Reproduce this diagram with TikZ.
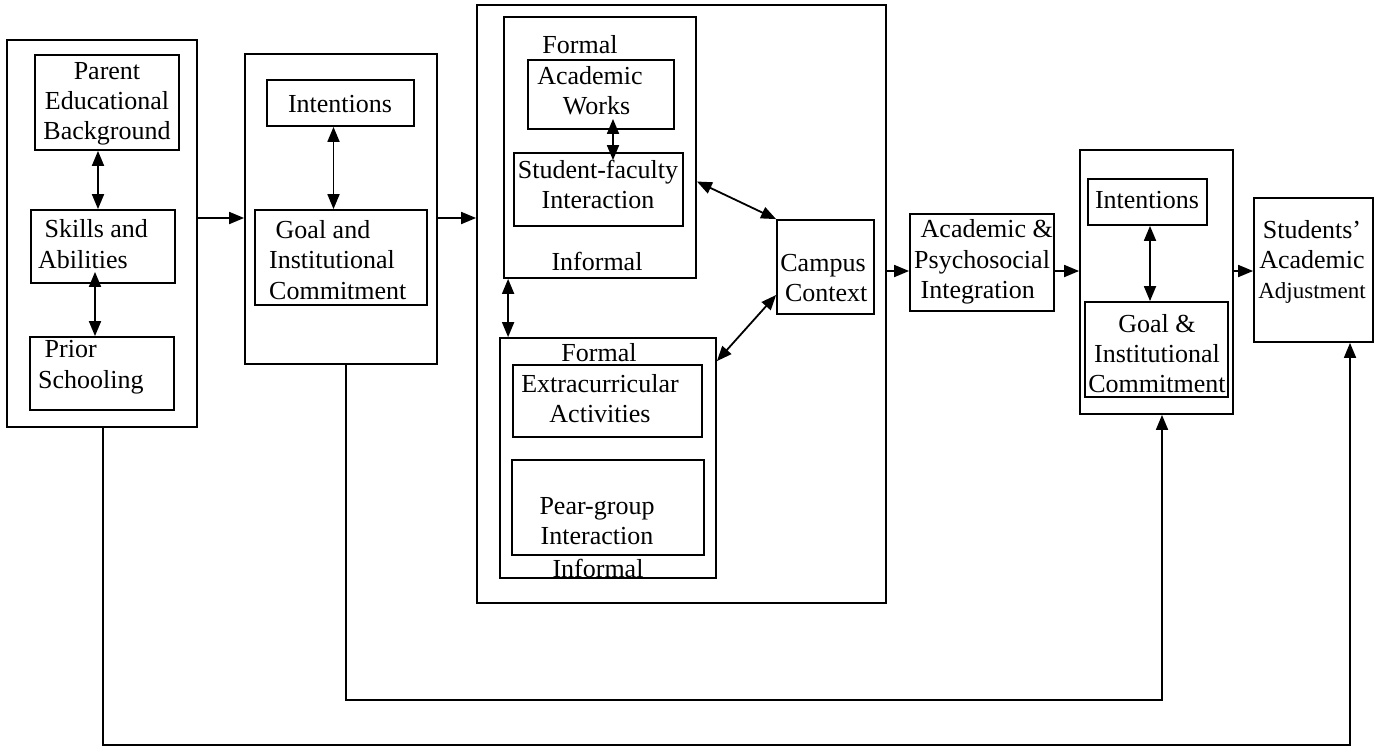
\documentclass[tikz,border=0pt]{standalone}
\usepackage{fontspec}
\setmainfont{Liberation Serif}
\usetikzlibrary{arrows.meta,fit}
\begin{document}
\begin{tikzpicture}[x=1pt,y=-1pt,
  box/.style={draw,line width=1.8pt,inner sep=0pt},
  txt/.style={font=\fontsize{26}{30}\selectfont,align=center,inner sep=0pt},
  txtl/.style={font=\fontsize{26}{30.5}\selectfont,align=left,inner sep=0pt,anchor=west},
  conn/.style={line width=1.8pt},
  >={Triangle[length=15pt,width=12pt]}]
\useasboundingbox (0,0) rectangle (1386,748);
\fill[white] (0,0) rectangle (1386,748);
% ---------- box 1
\node[box,fit={(7,40) (197,427)}] (b1) {};
\node[box,fit={(35,55) (179,150)}] (pe) {};
\node[box,fit={(31,210) (175,283)}] (sa) {};
\node[box,fit={(30,337) (174,410)}] (ps) {};
\node[txt] (tpe) at (107,104) {Parent\\Educational\\Background};
\node[txtl] (tsa) at (38,244) {\ Skills and\\Abilities};
\node[txtl] (tps) at (38,367) {\ Prior\\Schooling};
% ---------- box 2
\node[box,fit={(245,54) (437,364)}] (b2) {};
\node[box,fit={(267,80) (414,126)}] (in2) {};
\node[box,fit={(255,210) (427,305)}] (g2) {};
\node[txt] (tin2) at (340,104) {Intentions};
\node[txtl] (tg2) at (269,260) {\ Goal and\\Institutional\\Commitment};
% ---------- box 3
\node[box,fit={(477,5) (886,603)}] (b3) {};
\node[box,fit={(504,17) (696,278)}] (ub) {};
\node[box,fit={(528,60) (674,129)}] (aw) {};
\node[box,fit={(514,153) (683,226)}] (sf) {};
\node[box,fit={(500,338) (716,578)}] (lb) {};
\node[box,fit={(513,365) (702,437)}] (ex) {};
\node[box,fit={(512,460) (704,555)}] (pg) {};
\node[box,fit={(777,220) (874,314)}] (cc) {};
\node[txt] (tf1) at (580,45) {Formal};
\node[txt] (taw) at (590,91) {Academic\\\ \ Works};
\node[txt] (tsf) at (598,184) {Student-faculty\\Interaction};
\node[txt] (ti1) at (597,261) {Informal};
\node[txt] (tf2) at (599,353) {Formal};
\node[txt] (tex) at (600,399) {Extracurricular\\Activities};
\node[txt] (tpg) at (597,521) {Pear-group\\Interaction};
\node[txt] (ti2) at (598,568) {Informal};
\node[txt] (tcc) at (823,278) {Campus\\\ Context};
% ---------- right part
\node[box,fit={(910,214) (1054,311)}] (api) {};
\node[txtl] (tapi) at (914,262) {\ Academic \&\\Psychosocial\\\ Integration};
\node[box,fit={(1080,150) (1233,414)}] (b4) {};
\node[box,fit={(1088,179) (1207,225)}] (in4) {};
\node[box,fit={(1085,302) (1228,397)}] (g4) {};
\node[txt] (tin4) at (1147,200) {Intentions};
\node[txt] (tg4) at (1157,354) {Goal \&\\Institutional\\Commitment};
\node[box,fit={(1254,198) (1373,342)}] (saa) {};
\node[txt] (tsaa) at (1312,262) {Students'\\Academic\\{\fontsize{23}{30}\selectfont Adjustment}};
% ---------- helper rows
\coordinate (r1) at (0,218);
\coordinate (r2) at (0,271);
\coordinate (f1) at (0,700);
\coordinate (f2) at (0,745);
% ---------- connectors
\draw[conn,<->] ([xshift=-9pt]pe.south) -- ([xshift=-9pt]pe.south |- sa.north);
\draw[conn,<->] ([xshift=-8pt,yshift=12pt]sa.south) -- ([xshift=-8pt]sa.south |- ps.north);
\draw[conn,->] (b1.east |- r1) -- (b2.west |- r1);
\draw[conn,<->] ([xshift=-7pt]in2.south) -- ([xshift=-7pt]in2.south |- g2.north);
\draw[conn,->] (b2.east |- r1) -- (b3.west |- r1);
\draw[conn,<->] ([xshift=12pt,yshift=11pt]aw.south) -- ([xshift=12pt,yshift=-8pt]aw.south |- sf.north);
\draw[conn,<->] ([yshift=-34pt]ub.east) -- (cc.north west);
\draw[conn,<->] ([xshift=5pt]ub.south west) -- ([xshift=5pt]ub.south west |- lb.north);
\draw[conn,<->] ([yshift=-24pt]lb.north east) -- ([yshift=-28pt]cc.west);
\draw[conn,->] (b3.east |- r2) -- (api.west |- r2);
\draw[conn,->] (api.east |- r2) -- (b4.west |- r2);
\draw[conn,<->] ([xshift=2.5pt]in4.south) -- ([xshift=2.5pt]in4.south |- g4.north);
\draw[conn,->] (b4.east |- r2) -- (saa.west |- r2);
\draw[conn,->] ([xshift=5pt]b2.south) -- ([xshift=5pt]b2.south |- f1) -| ([xshift=5.5pt]b4.south);
\draw[conn,->] ([xshift=1pt]b1.south) -- ([xshift=1pt]b1.south |- f2) -| ([xshift=36.5pt]saa.south);
\end{tikzpicture}
\end{document}
